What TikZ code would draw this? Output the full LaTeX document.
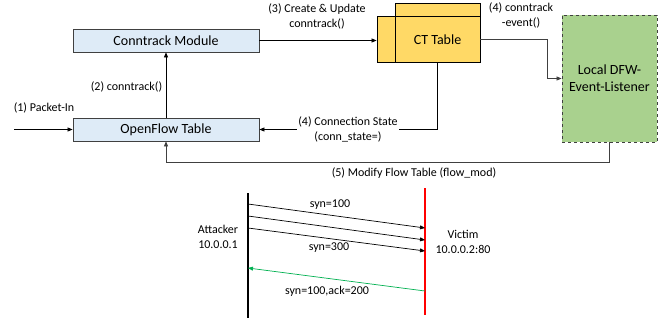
\documentclass[tikz,border=0pt]{standalone}
\usepackage{fontspec}
\setmainfont{Carlito}
\usetikzlibrary{arrows.meta}
\definecolor{boxblue}{HTML}{DEEBF7}
\definecolor{ctyellow}{HTML}{FFD966}
\definecolor{dfwgreen}{HTML}{A9D18E}
\definecolor{edgegray}{HTML}{404040}
\definecolor{ackgreen}{HTML}{00B050}
\begin{document}
\begin{tikzpicture}[x=1pt,y=-1pt,
  box/.style={draw=edgegray,line width=0.8pt,fill=boxblue,minimum width=186pt,minimum height=23pt,inner sep=0pt,font=\fontsize{14}{16}\selectfont},
  ctbox/.style={draw=black,line width=0.8pt,fill=ctyellow,inner sep=0pt},
  dfwbox/.style={draw=edgegray,dashed,line width=0.8pt,fill=dfwgreen,minimum width=95pt,minimum height=127pt,inner sep=0pt,align=center,font=\fontsize{14}{17}\selectfont},
  lbl/.style={font=\fontsize{12}{14.5}\selectfont,align=center,inner sep=1pt},
  arr/.style={-{Triangle[length=5pt,width=4pt]},line width=0.7pt},
  conn/.style={line width=0.7pt,draw=black}]
\useasboundingbox (0,0) rectangle (671,322);
% boxes
\node[box] (cm) at (166,40.5) {Conntrack Module};
\node[box] (of) at (166,129.5) {OpenFlow Table};
\node[ctbox,minimum width=85pt,minimum height=59pt] (ctback) at (437.5,32.5) {};
\node[ctbox,minimum width=103pt,minimum height=46pt] (ctmain) at (428.5,39) {};
\draw[line width=0.8pt] (395,16) -- (395,62);
\node[font=\fontsize{14}{16}\selectfont] (cttext) at (437.5,40) {CT Table};
\node[dfwbox] (dfw) at (609.5,78.5) {Local DFW-\\Event-Listener};
% coordinates
\coordinate (pin) at (14,129.5);
\coordinate (bend1) at (547,39);
\coordinate (bend5) at (609.5,162);
% connectors
\draw[arr] (pin) -- (of.west);
\node[lbl] (l1) at (44,108) {(1) Packet-In};
\draw[arr] (of.north) -- (cm.south);
\node[lbl] (l2) at (126.5,87) {(2) conntrack()};
\draw[arr] (cm.east) -- (cm.east -| ctmain.west);
\node[lbl] (l3) at (317,16.5) {(3) Create \& Update\\conntrack()};
\draw[arr,draw=black] (ctback.south) |- (of.east);
\node[lbl,fill=white] (l4) at (348,129.5) {(4) Connection State\\(conn\_state=)};
\draw[arr,draw=edgegray] (ctmain.east) -- (bend1) |- (dfw.west);
\node[lbl] (l4b) at (521,15.5) {(4) conntrack\\-event()};
\draw[arr,draw=edgegray] (dfw.south) -- (bend5) -| (of.south);
\node[lbl] (l5) at (414,173) {(5) Modify Flow Table (flow\_mod)};
% lower sequence diagram
\coordinate (a1) at (248,193);
\coordinate (a2) at (248,318);
\coordinate (v1) at (425,188);
\coordinate (v2) at (425,315);
\draw[line width=1.2pt,black] (a1) -- (a2);
\draw[line width=1.2pt,red] (v1) -- (v2);
\coordinate (s1) at (248,204); \coordinate (e1) at (425,228);
\coordinate (s2) at (248,216); \coordinate (e2) at (425,240);
\coordinate (s3) at (248,228); \coordinate (e3) at (425,251);
\coordinate (g1) at (425,291); \coordinate (g2) at (248,268);
\draw[arr] (s1) -- (e1);
\draw[arr] (s2) -- (e2);
\draw[arr] (s3) -- (e3);
\draw[arr,draw=ackgreen] (g1) -- (g2);
\node[lbl] (syn1) at (330,205) {syn=100};
\node[lbl] (syn3) at (329,248) {syn=300};
\node[lbl] (ack) at (327,291) {syn=100,ack=200};
\node[lbl] (att) at (218,237) {Attacker\\10.0.0.1};
\node[lbl] (vic) at (463,242) {Victim\\10.0.0.2:80};
\end{tikzpicture}
\end{document}
